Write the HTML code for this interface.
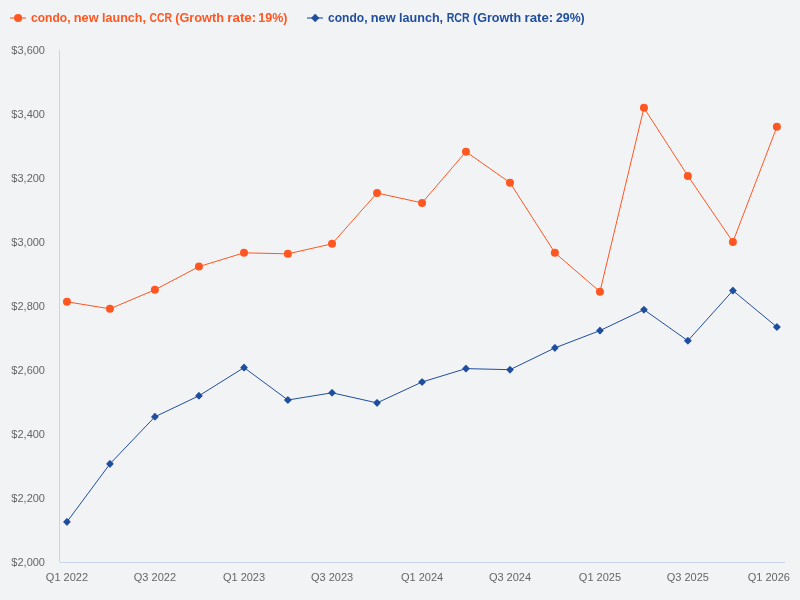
<!DOCTYPE html>
<html><head><meta charset="utf-8"><style>
html,body{margin:0;padding:0;background:#f2f3f5;}
svg{display:block;will-change:transform;}
text{font-family:"Liberation Sans",sans-serif;}
.yl{font-size:11px;fill:#666666;}
.xl{font-size:11px;fill:#666666;}
.lg{font-size:13.5px;font-weight:bold;}
</style></head><body>
<svg width="800" height="600" viewBox="0 0 800 600">
<rect width="800" height="600" fill="#f2f3f5"/>
<path d="M59.5 50V562M60 562.5H785" stroke="#c9d3ea" stroke-width="1" fill="none"/>
<text x="45" y="54" text-anchor="end" class="yl">$3,600</text>
<text x="45" y="118" text-anchor="end" class="yl">$3,400</text>
<text x="45" y="182" text-anchor="end" class="yl">$3,200</text>
<text x="45" y="246" text-anchor="end" class="yl">$3,000</text>
<text x="45" y="310" text-anchor="end" class="yl">$2,800</text>
<text x="45" y="374" text-anchor="end" class="yl">$2,600</text>
<text x="45" y="438" text-anchor="end" class="yl">$2,400</text>
<text x="45" y="502" text-anchor="end" class="yl">$2,200</text>
<text x="45" y="566" text-anchor="end" class="yl">$2,000</text>
<text x="66.95" y="581" text-anchor="middle" class="xl">Q1 2022</text>
<text x="154.90" y="581" text-anchor="middle" class="xl">Q3 2022</text>
<text x="244.02" y="581" text-anchor="middle" class="xl">Q1 2023</text>
<text x="332.05" y="581" text-anchor="middle" class="xl">Q3 2023</text>
<text x="422.05" y="581" text-anchor="middle" class="xl">Q1 2024</text>
<text x="510.00" y="581" text-anchor="middle" class="xl">Q3 2024</text>
<text x="599.95" y="581" text-anchor="middle" class="xl">Q1 2025</text>
<text x="687.85" y="581" text-anchor="middle" class="xl">Q3 2025</text>
<text x="768.80" y="581" text-anchor="middle" class="xl">Q1 2026</text>
<polyline points="66.95,301.80 109.95,308.80 154.90,289.80 198.95,266.60 244.02,252.80 287.88,253.85 332.05,243.80 377.05,193.00 422.05,202.90 465.95,151.70 510.00,182.70 554.90,252.80 599.95,291.70 643.95,107.85 687.85,175.90 732.90,241.90 776.90,126.85" fill="none" stroke="#ff5722" stroke-width="1" stroke-linejoin="round"/>
<polyline points="66.95,521.90 109.95,463.90 154.90,416.80 198.95,395.80 244.02,367.60 287.88,400.00 332.05,392.80 377.05,402.90 422.05,382.00 465.95,368.60 510.00,369.70 554.90,347.90 599.95,330.60 643.95,309.70 687.85,340.75 732.90,290.60 776.90,327.00" fill="none" stroke="#1f4e9f" stroke-width="1" stroke-linejoin="round"/>
<circle cx="66.95" cy="301.80" r="4" fill="#ff5722"/>
<circle cx="109.95" cy="308.80" r="4" fill="#ff5722"/>
<circle cx="154.90" cy="289.80" r="4" fill="#ff5722"/>
<circle cx="198.95" cy="266.60" r="4" fill="#ff5722"/>
<circle cx="244.02" cy="252.80" r="4" fill="#ff5722"/>
<circle cx="287.88" cy="253.85" r="4" fill="#ff5722"/>
<circle cx="332.05" cy="243.80" r="4" fill="#ff5722"/>
<circle cx="377.05" cy="193.00" r="4" fill="#ff5722"/>
<circle cx="422.05" cy="202.90" r="4" fill="#ff5722"/>
<circle cx="465.95" cy="151.70" r="4" fill="#ff5722"/>
<circle cx="510.00" cy="182.70" r="4" fill="#ff5722"/>
<circle cx="554.90" cy="252.80" r="4" fill="#ff5722"/>
<circle cx="599.95" cy="291.70" r="4" fill="#ff5722"/>
<circle cx="643.95" cy="107.85" r="4" fill="#ff5722"/>
<circle cx="687.85" cy="175.90" r="4" fill="#ff5722"/>
<circle cx="732.90" cy="241.90" r="4" fill="#ff5722"/>
<circle cx="776.90" cy="126.85" r="4" fill="#ff5722"/>
<rect x="64.15" y="519.10" width="5.6" height="5.6" rx="0.6" fill="#1f4e9f" transform="rotate(45 66.95 521.90)"/>
<rect x="107.15" y="461.10" width="5.6" height="5.6" rx="0.6" fill="#1f4e9f" transform="rotate(45 109.95 463.90)"/>
<rect x="152.10" y="414.00" width="5.6" height="5.6" rx="0.6" fill="#1f4e9f" transform="rotate(45 154.90 416.80)"/>
<rect x="196.15" y="393.00" width="5.6" height="5.6" rx="0.6" fill="#1f4e9f" transform="rotate(45 198.95 395.80)"/>
<rect x="241.22" y="364.80" width="5.6" height="5.6" rx="0.6" fill="#1f4e9f" transform="rotate(45 244.02 367.60)"/>
<rect x="285.07" y="397.20" width="5.6" height="5.6" rx="0.6" fill="#1f4e9f" transform="rotate(45 287.88 400.00)"/>
<rect x="329.25" y="390.00" width="5.6" height="5.6" rx="0.6" fill="#1f4e9f" transform="rotate(45 332.05 392.80)"/>
<rect x="374.25" y="400.10" width="5.6" height="5.6" rx="0.6" fill="#1f4e9f" transform="rotate(45 377.05 402.90)"/>
<rect x="419.25" y="379.20" width="5.6" height="5.6" rx="0.6" fill="#1f4e9f" transform="rotate(45 422.05 382.00)"/>
<rect x="463.15" y="365.80" width="5.6" height="5.6" rx="0.6" fill="#1f4e9f" transform="rotate(45 465.95 368.60)"/>
<rect x="507.20" y="366.90" width="5.6" height="5.6" rx="0.6" fill="#1f4e9f" transform="rotate(45 510.00 369.70)"/>
<rect x="552.10" y="345.10" width="5.6" height="5.6" rx="0.6" fill="#1f4e9f" transform="rotate(45 554.90 347.90)"/>
<rect x="597.15" y="327.80" width="5.6" height="5.6" rx="0.6" fill="#1f4e9f" transform="rotate(45 599.95 330.60)"/>
<rect x="641.15" y="306.90" width="5.6" height="5.6" rx="0.6" fill="#1f4e9f" transform="rotate(45 643.95 309.70)"/>
<rect x="685.05" y="337.95" width="5.6" height="5.6" rx="0.6" fill="#1f4e9f" transform="rotate(45 687.85 340.75)"/>
<rect x="730.10" y="287.80" width="5.6" height="5.6" rx="0.6" fill="#1f4e9f" transform="rotate(45 732.90 290.60)"/>
<rect x="774.10" y="324.20" width="5.6" height="5.6" rx="0.6" fill="#1f4e9f" transform="rotate(45 776.90 327.00)"/>
<path d="M10 18H26" stroke="#ff5722" stroke-width="2" stroke-opacity="0.55"/><circle cx="18.1" cy="18" r="4.05" fill="#ff5722"/>
<text x="31.05" y="21.8" class="lg" fill="#ff5722" textLength="39.52" lengthAdjust="spacingAndGlyphs">condo,</text>
<text x="73.79" y="21.8" class="lg" fill="#ff5722" textLength="24.82" lengthAdjust="spacingAndGlyphs">new</text>
<text x="102.05" y="21.8" class="lg" fill="#ff5722" textLength="43.91" lengthAdjust="spacingAndGlyphs">launch,</text>
<text x="149.62" y="21.8" class="lg" fill="#ff5722" textLength="22.48" lengthAdjust="spacingAndGlyphs">CCR</text>
<text x="175.23" y="21.8" class="lg" fill="#ff5722" textLength="48.73" lengthAdjust="spacingAndGlyphs">(Growth</text>
<text x="227.26" y="21.8" class="lg" fill="#ff5722" textLength="29.0" lengthAdjust="spacingAndGlyphs">rate:</text>
<text x="258.31" y="21.8" class="lg" fill="#ff5722" textLength="29.17" lengthAdjust="spacingAndGlyphs">19%)</text>
<text x="328.05" y="21.8" class="lg" fill="#1f4e9f" textLength="39.52" lengthAdjust="spacingAndGlyphs">condo,</text>
<text x="370.79" y="21.8" class="lg" fill="#1f4e9f" textLength="24.82" lengthAdjust="spacingAndGlyphs">new</text>
<text x="399.05" y="21.8" class="lg" fill="#1f4e9f" textLength="44.06" lengthAdjust="spacingAndGlyphs">launch,</text>
<text x="446.66" y="21.8" class="lg" fill="#1f4e9f" textLength="22.93" lengthAdjust="spacingAndGlyphs">RCR</text>
<text x="473.03" y="21.8" class="lg" fill="#1f4e9f" textLength="48.16" lengthAdjust="spacingAndGlyphs">(Growth</text>
<text x="524.51" y="21.8" class="lg" fill="#1f4e9f" textLength="28.73" lengthAdjust="spacingAndGlyphs">rate:</text>
<text x="556.02" y="21.8" class="lg" fill="#1f4e9f" textLength="28.7" lengthAdjust="spacingAndGlyphs">29%)</text>
<path d="M307 18H323" stroke="#1f4e9f" stroke-width="2" stroke-opacity="0.55"/><rect x="312.3" y="15.1" width="5.8" height="5.8" rx="0.6" fill="#1f4e9f" transform="rotate(45 315.2 18)"/>
</svg>
</body></html>
